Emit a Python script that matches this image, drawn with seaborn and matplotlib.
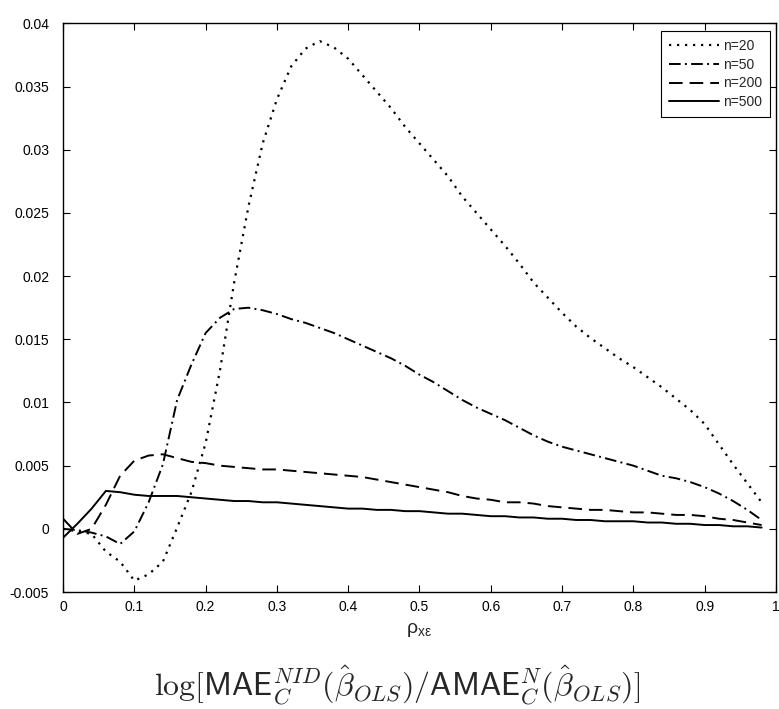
import numpy as np
import pandas as pd
import matplotlib
matplotlib.use("Agg")
import matplotlib.pyplot as plt
import seaborn as sns

# correlation grid
rho = [round(0.02 * i, 2) for i in range(50)]

# log ratio of MAE under NID to asymptotic MAE, by sample size
n20 = [0.0000, -0.0002, -0.0004, -0.0018, -0.0026, -0.0041, -0.0036, -0.0026, 0.0001, 0.0029,
       0.0068, 0.0125, 0.0195, 0.0255, 0.0305, 0.0340, 0.0366, 0.0380, 0.0386, 0.0381,
       0.0372, 0.0359, 0.0346, 0.0333, 0.0318, 0.0305, 0.0292, 0.0279, 0.0263, 0.0250,
       0.0237, 0.0224, 0.0210, 0.0195, 0.0183, 0.0171, 0.0160, 0.0151, 0.0143, 0.0135,
       0.0128, 0.0120, 0.0112, 0.0103, 0.0094, 0.0083, 0.0067, 0.0051, 0.0036, 0.0021]
n50 = [0.0000, -0.0001, -0.0003, -0.0006, -0.0012, -0.0002, 0.0021, 0.0051, 0.0102, 0.0130,
       0.0155, 0.0167, 0.0174, 0.0175, 0.0173, 0.0170, 0.0166, 0.0163, 0.0159, 0.0155,
       0.0150, 0.0145, 0.0140, 0.0135, 0.0129, 0.0122, 0.0116, 0.0109, 0.0102, 0.0096,
       0.0091, 0.0086, 0.0080, 0.0074, 0.0069, 0.0065, 0.0062, 0.0059, 0.0056, 0.0053,
       0.0050, 0.0046, 0.0042, 0.0040, 0.0037, 0.0033, 0.0028, 0.0022, 0.0015, 0.0007]
n200 = [0.0008, -0.0004, 0.0000, 0.0019, 0.0042, 0.0054, 0.0058, 0.0059, 0.0056, 0.0053,
        0.0052, 0.0050, 0.0049, 0.0048, 0.0047, 0.0047, 0.0046, 0.0045, 0.0044, 0.0043,
        0.0042, 0.0041, 0.0039, 0.0037, 0.0035, 0.0033, 0.0031, 0.0029, 0.0026, 0.0024,
        0.0023, 0.0021, 0.0021, 0.0020, 0.0018, 0.0017, 0.0016, 0.0015, 0.0015, 0.0014,
        0.0013, 0.0013, 0.0012, 0.0011, 0.0011, 0.0010, 0.0008, 0.0007, 0.0005, 0.0003]
n500 = [-0.0007, 0.0004, 0.0016, 0.0030, 0.0029, 0.0027, 0.0026, 0.0026, 0.0026, 0.0025,
        0.0024, 0.0023, 0.0022, 0.0022, 0.0021, 0.0021, 0.0020, 0.0019, 0.0018, 0.0017,
        0.0016, 0.0016, 0.0015, 0.0015, 0.0014, 0.0014, 0.0013, 0.0012, 0.0012, 0.0011,
        0.0010, 0.0010, 0.0009, 0.0009, 0.0008, 0.0008, 0.0007, 0.0007, 0.0006, 0.0006,
        0.0006, 0.0005, 0.0005, 0.0004, 0.0004, 0.0003, 0.0003, 0.0002, 0.0002, 0.0001]

labels = ["n=20", "n=50", "n=200", "n=500"]
series = [n20, n50, n200, n500]

xticks = [0, 0.1, 0.2, 0.3, 0.4, 0.5, 0.6, 0.7, 0.8, 0.9, 1]
xticklabels = ["0", "0.1", "0.2", "0.3", "0.4", "0.5", "0.6", "0.7", "0.8", "0.9", "1"]
yticks = [-0.005, 0, 0.005, 0.01, 0.015, 0.02, 0.025, 0.03, 0.035, 0.04]
yticklabels = ["-0.005", "0", "0.005", "0.01", "0.015", "0.02", "0.025", "0.03", "0.035", "0.04"]

df = pd.concat(
    [pd.DataFrame({"rho": rho, "value": s, "series": lab}) for lab, s in zip(labels, series)],
    ignore_index=True,
)

sns.set_style("ticks")
plt.rcParams.update({
    "font.family": ["Liberation Sans", "DejaVu Sans"],
    "xtick.direction": "in",
    "ytick.direction": "in",
    "xtick.top": True,
    "ytick.right": True,
    "xtick.major.size": 5,
    "ytick.major.size": 5,
    "xtick.major.width": 0.8,
    "ytick.major.width": 0.8,
    "axes.linewidth": 1.0,
    "axes.edgecolor": "black",
})

fig = plt.figure(figsize=(7.79, 7.09), dpi=100)
ax = fig.add_axes([0.081, 0.165, 0.915, 0.802])

dash_styles = {
    "n=20": (1.0, 2.6),
    "n=50": (6.0, 2.2, 1.0, 2.2),
    "n=200": (7.0, 3.6),
    "n=500": "",
}

sns.lineplot(data=df, x="rho", y="value", style="series", dashes=dash_styles,
             color="black", linewidth=1.4, sort=False, ax=ax)

# slightly heavier dots for the n=20 curve
ax.get_lines()[0].set_linewidth(1.6)

ax.set_xlim(0, 1)
ax.set_ylim(-0.005, 0.04)
ax.set_xticks(xticks)
ax.set_xticklabels(xticklabels, fontsize=10)
ax.set_yticks(yticks)
ax.set_yticklabels(yticklabels, fontsize=10)
ax.tick_params(axis="x", colors="black", pad=6)
ax.tick_params(axis="y", colors="black", pad=10)
ax.set_ylabel("")
ax.set_xlabel(r"$\mathregular{ρ_{xε}}$", fontsize=14, labelpad=5)

handles, labs = ax.get_legend_handles_labels()
handles[0].set_linewidth(1.6)
leg = ax.legend(handles, labs, loc="upper right", fontsize=10, frameon=True,
                fancybox=False, edgecolor="black", framealpha=1, handlelength=3.6,
                handletextpad=0.3, labelspacing=0.35, borderpad=0.55,
                borderaxespad=0, bbox_to_anchor=(0.9916, 0.9864))
leg.get_frame().set_linewidth(0.8)

fig.text(0.5096, 0.033,
         r"$\log[\mathsf{MAE}_C^{NID}(\hat{\beta}_{OLS})/\mathsf{AMAE}_C^{N}(\hat{\beta}_{OLS})]$",
         ha="center", va="center", fontsize=23, math_fontfamily="cm")

fig.savefig("out.png", dpi=100)
